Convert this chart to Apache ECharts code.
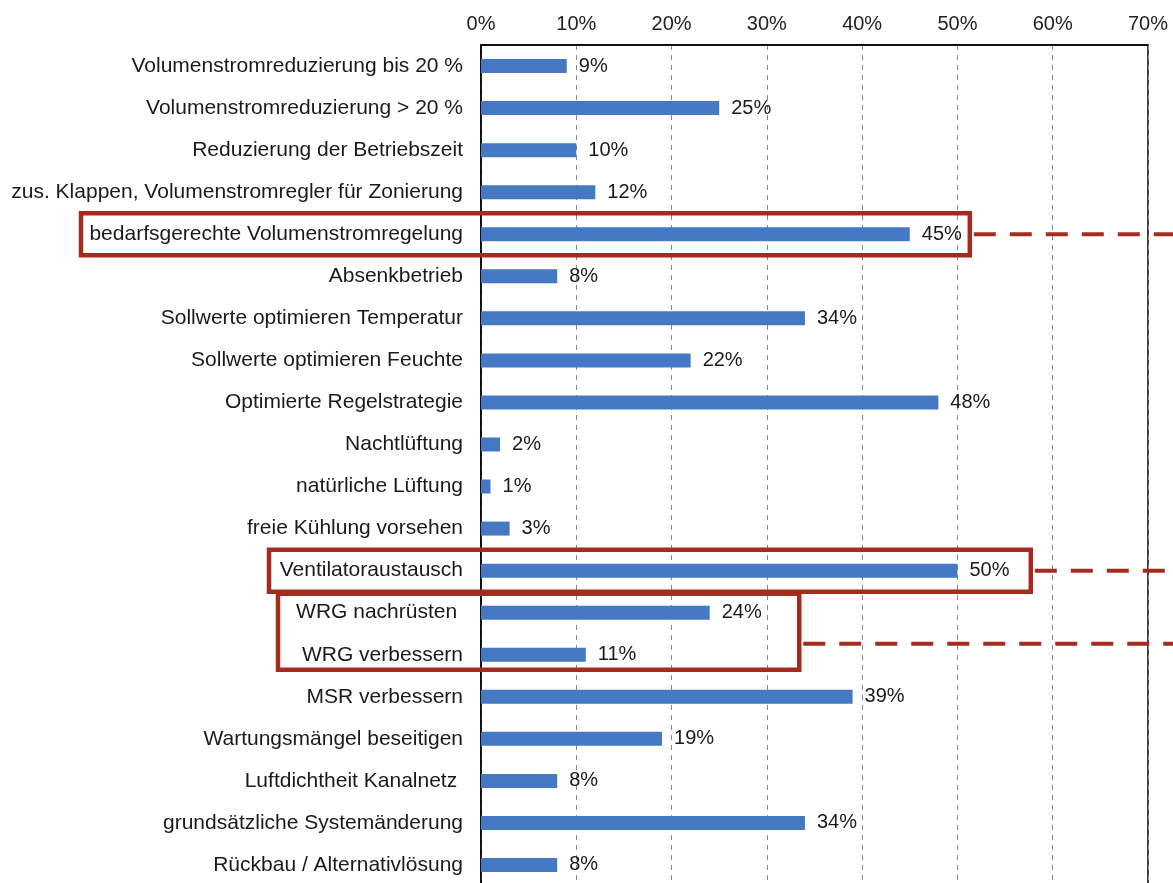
<!DOCTYPE html>
<html>
	<head>
		<meta charset="utf-8">
		<title>Maßnahmen</title>
		<style>
html, body {
	width: 100%;
	height: 100%;
	margin: 0;
	background: #fff;
}
#box1 {
	width: 1173px;
	height: 883px;
}
		</style>
	</head>
	<body>
		<div id="box1"></div>
	</body>
	<script src="https://cdn.jsdelivr.net/npm/echarts@6/dist/echarts.min.js"></script>
	<script type="text/javascript">
var categories = [
	'Volumenstromreduzierung bis 20 %',
	'Volumenstromreduzierung > 20 %',
	'Reduzierung der Betriebszeit',
	'zus. Klappen, Volumenstromregler für Zonierung',
	'bedarfsgerechte Volumenstromregelung',
	'Absenkbetrieb',
	'Sollwerte optimieren Temperatur',
	'Sollwerte optimieren Feuchte',
	'Optimierte Regelstrategie',
	'Nachtlüftung',
	'natürliche Lüftung',
	'freie Kühlung vorsehen',
	'Ventilatoraustausch',
	'WRG nachrüsten ',
	'WRG verbessern',
	'MSR verbessern',
	'Wartungsmängel beseitigen',
	'Luftdichtheit Kanalnetz ',
	'grundsätzliche Systemänderung',
	'Rückbau / Alternativlösung'
];
var values = [9, 25, 10, 12, 45, 8, 34, 22, 48, 2, 1, 3, 50, 24, 11, 39, 19, 8, 34, 8];
var axisMin = 0, axisMax = 70, axisStep = 10;

// hervorgehobene Zeilen: [erste Zeile, letzte Zeile, linke Kante px, rechte Kante in %]
var highlights = [
	[4, 4, 81, 51.3],
	[12, 12, 269, 57.7],
	[13, 14, 278, 33.4]
];

var myChart = echarts.init(document.getElementById('box1'));
var font = 'Liberation Sans, Arial, sans-serif';

var option = {
	backgroundColor: '#fff',
	animation: false,
	grid: {
		left: 481,
		right: 25,
		top: 45,
		bottom: -3,
		show: true,
		borderColor: '#000',
		borderWidth: 1.5,
		containLabel: false,
		outerBoundsMode: 'none'
	},
	xAxis: {
		type: 'value',
		position: 'top',
		min: axisMin,
		max: axisMax,
		interval: axisStep,
		axisLine: { show: true, lineStyle: { color: '#000', width: 1.5 } },
		axisTick: { show: false },
		axisLabel: {
			formatter: '{value}%',
			color: '#222',
			fontSize: 20,
			fontFamily: font,
			margin: 11
		},
		splitLine: {
			show: true,
			lineStyle: { color: '#888', type: [5, 5], width: 1 }
		}
	},
	yAxis: {
		type: 'category',
		data: categories,
		inverse: true,
		axisLine: { show: true, lineStyle: { color: '#000', width: 1.5 } },
		axisTick: { show: false },
		axisLabel: {
			color: '#1a1a1a',
			fontSize: 21,
			fontFamily: font,
			margin: 18
		}
	},
	series: [{
		type: 'bar',
		data: values,
		barWidth: 14,
		itemStyle: { color: '#4679c4' },
		label: {
			show: true,
			position: 'right',
			distance: 12,
			formatter: '{c}%',
			color: '#1a1a1a',
			fontSize: 20,
			fontFamily: font
		}
	}]
};

myChart.setOption(option);

// rote Markierungen
var red = '#a62b1f';
var graphics = [];
var rightEdge = 1173;
highlights.forEach(function (h) {
	var yTop = myChart.convertToPixel({ gridIndex: 0 }, [0, h[0]])[1];
	var yBot = myChart.convertToPixel({ gridIndex: 0 }, [0, h[1]])[1];
	var xr = myChart.convertToPixel({ gridIndex: 0 }, [h[3], h[0]])[0];
	var top = yTop - 21, bot = yBot + 21;
	if (h[0] !== h[1]) { top = yTop - 19; bot = yBot + 15; }
	graphics.push({
		type: 'rect',
		shape: { x: h[2], y: top, width: xr - h[2], height: bot - top },
		style: { fill: 'none', stroke: red, lineWidth: 4.5 },
		z: 100
	});
	var ly = h[0] !== h[1] ? (yTop + yBot) / 2 + 10 : (top + bot) / 2;
	graphics.push({
		type: 'line',
		shape: { x1: xr + 4, y1: ly, x2: rightEdge, y2: ly },
		style: { stroke: red, lineWidth: 4, lineDash: [22, 14] },
		z: 100
	});
});
myChart.setOption({ graphic: graphics });

window.addEventListener('resize', () => {
	myChart.resize()
})
	</script>
</html>
